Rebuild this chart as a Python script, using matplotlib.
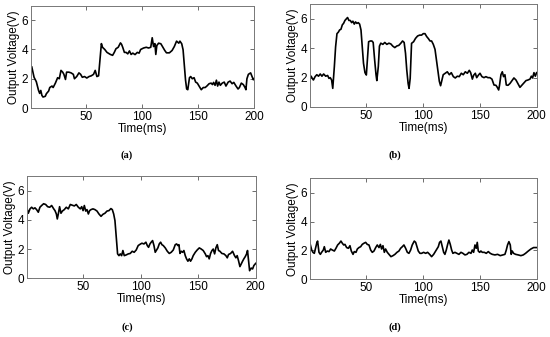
import matplotlib
matplotlib.use('Agg')
import matplotlib.pyplot as plt

# (a)
t_a = [2, 4, 6, 8, 9, 10, 11, 12, 14, 15, 17, 18, 20, 21, 23, 25, 26.5, 28, 29.5, 30.6, 32, 33, 35, 37, 39, 40,
       42, 44, 45.5, 47, 49, 51, 53, 55, 57, 58.5, 60, 61.5, 63, 64, 65, 67, 69, 72, 74, 75.5, 77, 79, 81, 82,
       83, 84.5, 86, 87.5, 89, 90.5, 92, 94, 96, 97.6, 99, 101.6, 104, 106, 108, 109.3, 110.5, 111.7, 112.5,
       113.4, 115, 117, 118.7, 120.5, 122, 124.6, 127, 129, 131, 133, 134, 135.6, 136.8, 138, 139, 140, 141,
       142.5, 143.6, 145, 146.6, 148, 149.5, 150.7, 151.8, 153, 154.8, 156.5, 158, 160, 161.8, 163, 164,
       165.3, 166.5, 167.6, 168.8, 170, 171.7, 173.5, 175, 177, 178.7, 180.5, 182, 184, 185.8, 187, 188.7,
       190.5, 192, 192.8, 193.7, 195, 197, 198, 199.4, 200]
v_a = [2.8, 2.1, 1.8, 1.2, 1.0, 1.2, 0.86, 0.75, 0.8, 0.98, 1.16, 1.4, 1.5, 1.4, 1.7, 2.07, 2.0, 2.57, 2.45, 2.3,
       1.95, 2.45, 2.45, 2.4, 2.3, 2.0, 2.15, 2.4, 2.3, 2.1, 2.15, 2.05, 2.15, 2.2, 2.3, 2.57, 2.15, 2.2, 3.5,
       4.4, 4.15, 4.0, 3.8, 3.66, 3.6, 3.8, 4.05, 4.15, 4.45, 4.35, 4.15, 3.8, 3.8, 3.7, 3.9, 3.66, 3.75, 3.65,
       3.8, 3.75, 4.0, 4.1, 4.15, 4.1, 4.15, 4.8, 4.2, 4.4, 3.66, 4.27, 4.43, 4.39, 4.16, 3.93, 3.77, 3.77,
       3.93, 4.2, 4.57, 4.43, 4.57, 4.39, 3.98, 2.8, 1.9, 1.3, 1.25, 2.07, 2.15, 2.0, 2.07, 1.77, 1.7, 1.55,
       1.4, 1.25, 1.4, 1.4, 1.5, 1.66, 1.7, 1.6, 1.75, 1.55, 1.9, 1.5, 1.77, 1.55, 1.7, 1.77, 1.5, 1.77, 1.84,
       1.66, 1.75, 1.5, 1.3, 1.4, 1.7, 1.6, 1.4, 1.25, 2.0, 2.3, 2.4, 2.2, 1.93, 2.0]

# (b)
t_b = [1, 2, 3, 4, 5.5, 7, 8.5, 10, 11.5, 13, 14.8, 16.5, 17.7, 18.8, 20, 21, 22.4, 23.5, 24.7, 25.9, 27, 28.2,
       29.4, 30.5, 31.7, 32.9, 34, 35.2, 36.4, 37.6, 38.7, 39.9, 41, 42.2, 43.4, 44.6, 45.8, 46.9, 48, 49.3,
       50.5, 51.3, 52.5, 54, 55.4, 56.5, 57.8, 59, 59.7, 61, 62, 63.2, 65, 66.7, 68.5, 70.3, 72, 73.7, 75.5,
       77.3, 79, 80.8, 82.3, 83.7, 84.9, 86, 87.2, 88, 89, 90.2, 92, 93.7, 95.5, 97.3, 99, 100.5, 102, 103.5,
       105, 106.4, 107.8, 109.3, 110.8, 112.2, 113.4, 114.6, 115.7, 116.9, 118, 119.8, 121.6, 123.4, 125.1,
       126.9, 128.6, 130.4, 132.1, 133.9, 135.6, 137.4, 139.2, 140.9, 142.1, 143.6, 144.7, 146.2, 147.4,
       148.8, 150.3, 152, 153.8, 155.5, 157.3, 159, 160.8, 162.6, 164.3, 165.5, 166.7, 167.5, 168.7, 169.9,
       171, 172.2, 173.4, 174.9, 176.6, 178.4, 180.1, 181.9, 183.6, 185.4, 187.2, 188.9, 190.7, 192.4, 194.2,
       195.4, 196.5, 197.7, 198.9, 200]
v_b = [1.95, 2.1, 1.95, 1.84, 2.07, 2.2, 2.1, 2.25, 2.1, 2.25, 2.1, 2.15, 1.95, 2.0, 1.84, 1.27, 2.75, 4.1, 5.0,
       5.1, 5.25, 5.3, 5.6, 5.7, 5.9, 6.0, 6.1, 5.9, 5.9, 5.75, 5.85, 5.65, 5.8, 5.7, 5.75, 5.65, 5.25, 4.1,
       2.98, 2.34, 2.18, 3.1, 4.45, 4.5, 4.5, 4.4, 3.2, 2.2, 1.8, 2.75, 4.15, 4.35, 4.27, 4.4, 4.27, 4.35, 4.3,
       4.15, 4.05, 4.16, 4.2, 4.35, 4.5, 4.4, 3.66, 2.52, 1.6, 1.27, 1.95, 4.34, 4.45, 4.68, 4.84, 4.9, 4.9,
       5.0, 5.0, 4.8, 4.66, 4.5, 4.5, 4.27, 3.93, 3.14, 2.45, 1.75, 1.45, 1.84, 2.2, 2.3, 2.4, 2.2, 2.34, 2.07,
       1.98, 2.1, 2.07, 2.3, 2.2, 2.4, 2.3, 2.5, 2.34, 1.9, 2.16, 2.3, 2.0, 2.16, 2.3, 2.07, 2.0, 2.07, 2.0,
       2.0, 1.9, 1.5, 1.48, 1.34, 1.16, 1.5, 2.2, 2.4, 2.07, 2.2, 1.5, 1.48, 1.6, 1.8, 1.98, 1.84, 1.6, 1.34,
       1.5, 1.66, 1.8, 1.84, 1.9, 2.1, 1.98, 2.34, 2.1, 2.34]

# (c)
t_c = [1, 2.4, 3.9, 5.3, 6.8, 8.2, 9.6, 11.1, 12.5, 14, 15.7, 17.5, 19.2, 21, 22.7, 24.5, 25.6, 26.8, 27.6,
       28.5, 29.6, 30.8, 32, 33.7, 35.4, 37.2, 38.9, 40.7, 42.4, 44.1, 45.9, 47.6, 48.8, 50, 51.1, 52.3, 53.4,
       54.6, 55.7, 56.9, 58.6, 60.3, 62.1, 63.8, 65.6, 67.3, 69, 70.8, 72.5, 74.2, 75.4, 76.6, 77.7, 78.9, 80,
       81.2, 82.3, 83.5, 84.6, 85.8, 87.5, 89.3, 91, 92.7, 94.4, 96.2, 97.9, 99.6, 101.1, 102.9, 104.6,
       105.8, 106.9, 108.1, 109.2, 110.4, 111.6, 112.7, 113.9, 115, 116.2, 117.4, 118.5, 119.7, 121.4,
       123.2, 124.9, 126.6, 128.4, 130.1, 131.3, 132.4, 133.3, 134.2, 135.3, 136.5, 137.6, 138.8, 139.9,
       141.1, 142.3, 143.4, 144.6, 145.7, 147.5, 149.2, 151, 152.7, 154.4, 156.2, 157.3, 158.5, 159.6,
       160.8, 162, 163.1, 164.3, 165.4, 166.6, 167.7, 168.9, 170.6, 172.4, 174.1, 175.3, 176.4, 178.2,
       179.9, 181.6, 182.8, 183.9, 185.1, 186.3, 187.4, 188.6, 189.7, 190.9, 192.1, 192.9, 193.8, 194.7,
       196.1, 197.3, 198.4, 200]
v_c = [4.86, 4.45, 4.75, 4.86, 4.75, 4.82, 4.7, 4.52, 4.86, 4.98, 5.1, 5.05, 4.9, 4.86, 4.98, 4.75, 4.63, 4.4,
       4.06, 4.4, 4.9, 4.45, 4.6, 4.7, 4.86, 4.75, 5.05, 5.0, 4.95, 5.05, 4.86, 4.75, 4.9, 4.63, 4.98, 4.6,
       4.7, 4.4, 4.63, 4.7, 4.75, 4.7, 4.6, 4.4, 4.24, 4.38, 4.45, 4.6, 4.63, 4.77, 4.7, 4.4, 3.95, 2.8, 1.67,
       1.55, 1.67, 1.55, 1.9, 1.55, 1.6, 1.67, 1.7, 1.85, 1.78, 1.94, 2.24, 2.33, 2.4, 2.35, 2.47, 2.24, 2.12,
       2.35, 2.47, 2.58, 2.24, 1.78, 1.94, 2.08, 2.35, 2.47, 2.3, 2.24, 2.08, 1.85, 1.7, 1.78, 1.94, 2.3, 2.35,
       2.24, 2.3, 1.7, 1.85, 1.78, 1.9, 1.55, 1.33, 1.17, 1.33, 1.17, 1.33, 1.55, 1.78, 1.94, 2.08, 2.0, 1.9,
       1.67, 1.48, 1.55, 1.33, 1.7, 1.9, 2.0, 1.67, 2.08, 2.3, 1.9, 1.85, 1.7, 1.67, 1.55, 1.4, 1.63, 1.7,
       1.85, 1.55, 1.4, 1.55, 1.2, 0.8, 0.98, 1.17, 1.33, 1.48, 1.67, 1.9, 1.2, 0.52, 0.7, 0.64, 0.87, 1.02]

# (d)
t_d = [1, 2.5, 3.6, 4.8, 6, 7.1, 7.7, 8.9, 10.1, 11.2, 12.7, 13.6, 14.8, 16.2, 17.7, 19.1, 20.6, 22.4, 23.8,
       25.3, 26.8, 28.2, 29.4, 30.6, 31.7, 33.2, 34.7, 36.1, 37.3, 38.8, 39.9, 41.4, 42.6, 44, 45.5, 46.9,
       48.4, 49.9, 51.3, 52.8, 54.3, 55.7, 57.2, 58.7, 60.1, 61.6, 62.8, 63.9, 65.1, 66.3, 67.4, 68.9, 70.4,
       72.1, 73.9, 75.6, 77.4, 79.1, 80.6, 82.1, 83.5, 85, 86.5, 87.9, 89.4, 90.8, 92.6, 93.8, 94.9, 96.1,
       97.6, 99, 100.8, 102.6, 104.3, 106.1, 107.8, 109.6, 110.7, 111.9, 113.7, 114.8, 116, 117.2, 118.4,
       119.5, 120.7, 121.9, 123, 124.2, 125.4, 126.5, 128.3, 130.1, 131.8, 133.6, 135.3, 137.1, 138.8,
       140.6, 142.4, 143.5, 144.7, 145.9, 147, 147.9, 148.8, 150, 151.1, 152.3, 154.1, 155.8, 157.6, 159.3,
       161.1, 163.4, 165.8, 168.1, 170.5, 172.2, 173.4, 174.5, 175.7, 176.9, 177.7, 178.6, 179.8, 181.6,
       183.9, 186.2, 188.3, 190.3, 192.7, 195, 197.4, 200]
v_d = [2.5, 2.03, 1.87, 1.8, 2.2, 2.56, 2.65, 1.87, 1.73, 1.87, 2.03, 2.26, 1.87, 1.96, 1.92, 2.1, 2.03, 1.96,
       2.15, 2.38, 2.5, 2.65, 2.5, 2.38, 2.42, 2.2, 2.15, 2.33, 1.96, 1.73, 1.92, 1.87, 2.1, 2.2, 2.26, 2.42,
       2.5, 2.56, 2.42, 2.38, 2.03, 1.87, 1.96, 2.2, 2.38, 2.2, 2.42, 2.1, 2.33, 1.87, 2.1, 1.87, 1.73, 1.57,
       1.64, 1.73, 1.87, 1.96, 2.15, 2.26, 2.38, 2.15, 1.87, 1.8, 2.03, 2.38, 2.65, 2.56, 2.26, 1.96, 1.8,
       1.8, 1.87, 1.8, 1.87, 1.73, 1.57, 1.73, 1.87, 2.03, 2.26, 2.56, 2.65, 2.26, 1.87, 1.73, 2.03, 2.42,
       2.72, 2.42, 2.03, 1.8, 1.87, 1.8, 1.73, 1.87, 1.8, 1.69, 1.73, 1.87, 1.8, 2.03, 1.87, 2.38, 2.15,
       2.56, 1.96, 1.87, 1.96, 1.87, 1.87, 1.8, 1.92, 1.8, 1.73, 1.69, 1.73, 1.64, 1.69, 1.73, 2.03, 2.38,
       2.61, 2.38, 1.73, 1.96, 1.8, 1.73, 1.69, 1.64, 1.69, 1.8, 1.96, 2.1, 2.2, 2.2]

panels = [
    ('(a)', t_a, v_a, [0.0558, 0.6795, 0.406, 0.304], (0.231, 0.54)),
    ('(b)', t_b, v_b, [0.5636, 0.6825, 0.412, 0.3047], (0.718, 0.54)),
    ('(c)', t_c, v_c, [0.0485, 0.1742, 0.4164, 0.3036], (0.231, 0.0297)),
    ('(d)', t_d, v_d, [0.5636, 0.1712, 0.412, 0.2997], (0.718, 0.0297)),
]

plt.rcParams['font.family'] = ['Liberation Sans', 'DejaVu Sans']

fig = plt.figure(figsize=(5.5, 3.37), dpi=100)

for caption, t, v, rect, cap_pos in panels:
    ax = fig.add_axes(rect)
    ax.plot(t, v, color='black', linewidth=1.2)
    ax.set_xlim(1, 200)
    ax.set_ylim(0, 7)
    ax.set_xticks([50, 100, 150, 200])
    ax.set_yticks([0, 2, 4, 6])
    ax.tick_params(direction='in', top=True, right=True, labelsize=8.5,
                   length=3, width=0.6, color='#555555', pad=2)
    for s in ax.spines.values():
        s.set_color('#777777')
        s.set_linewidth(0.7)
    ax.set_xlabel('Time(ms)', fontsize=8.5, labelpad=0)
    ax.set_ylabel('Output Voltage(V)', fontsize=8.5, labelpad=1)
    fig.text(cap_pos[0], cap_pos[1], caption, ha='center', va='center',
             fontsize=7.5, fontweight='bold', family='Liberation Serif')

fig.savefig('out.png', dpi=100)
